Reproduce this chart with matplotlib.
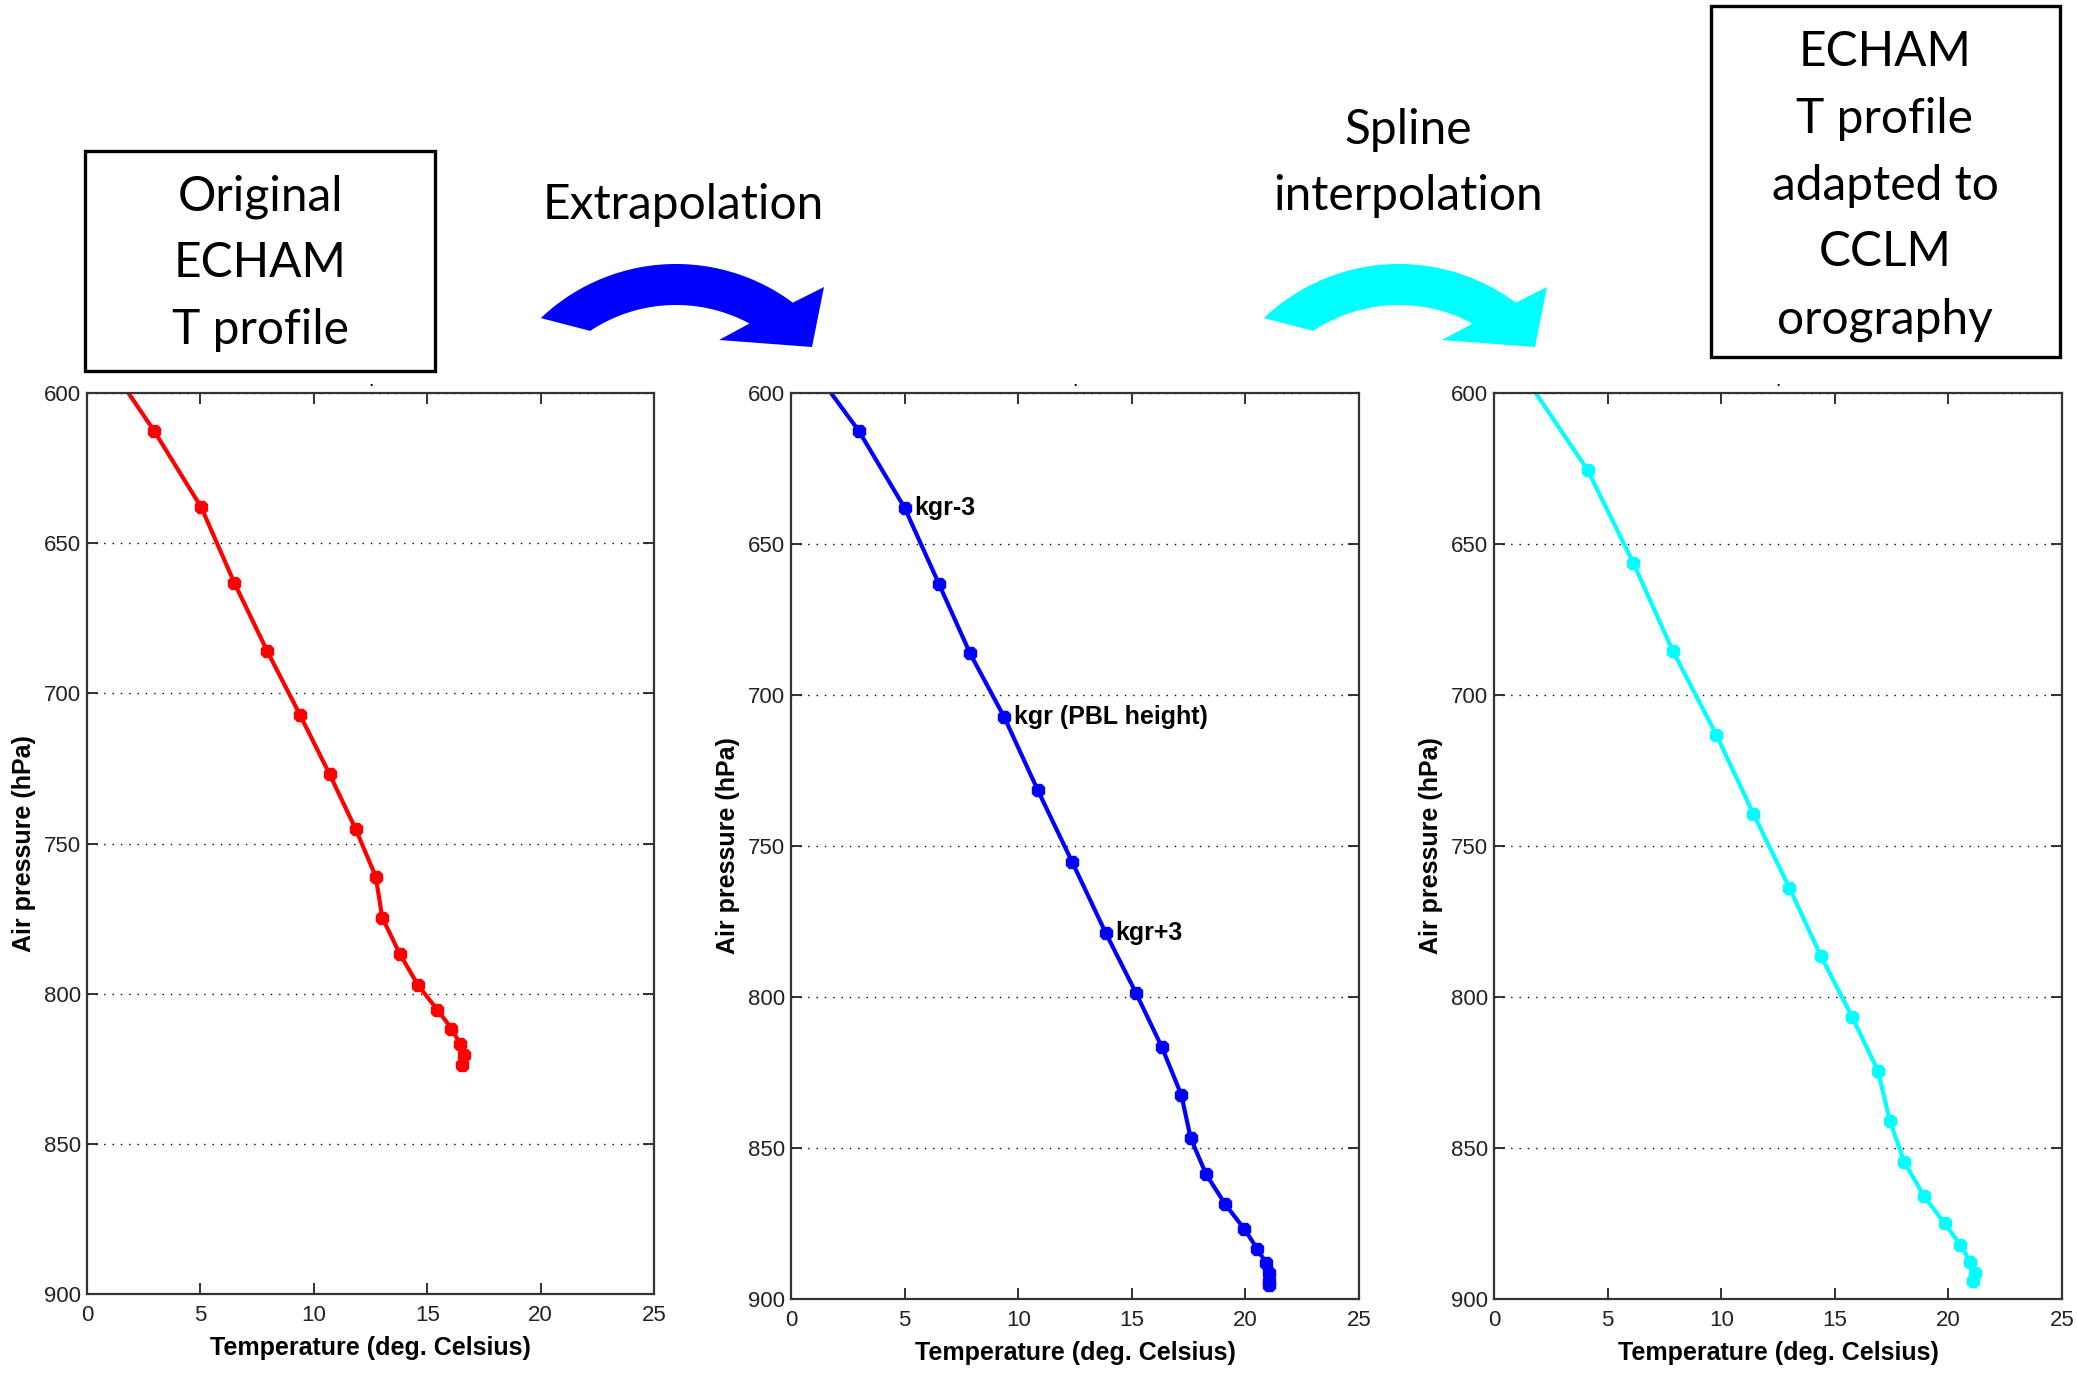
import numpy as np
import matplotlib.pyplot as plt
from matplotlib.patches import Polygon, Rectangle

plt.rcParams['font.family'] = ['Liberation Sans Narrow', 'Liberation Sans', 'DejaVu Sans']

# original ECHAM profile (red)
orig_T = [0.75, 2.95, 5.04, 6.49, 7.95, 9.40, 10.70, 11.84, 12.73, 13.02, 13.79,
          14.59, 15.44, 16.07, 16.46, 16.64, 16.52]
orig_p = [588, 612.5, 638.1, 663.1, 686.0, 707.3, 727.0, 745.1, 761.0, 774.7, 786.7,
          797.1, 805.3, 811.6, 816.8, 820.3, 823.6]

# extrapolated profile (blue)
ext_T = [0.59, 2.98, 5.00, 6.51, 7.88, 9.39, 10.86, 12.37, 13.86, 15.18, 16.33,
         17.18, 17.59, 18.27, 19.12, 19.96, 20.53, 20.92, 21.06, 21.02, 21.02]
ext_p = [588, 612.5, 638.0, 663.2, 686.2, 707.4, 731.5, 755.2, 778.9, 798.6, 816.7,
         832.4, 846.7, 858.7, 868.7, 876.9, 883.5, 888.2, 891.4, 894.0, 895.4]

# spline interpolated profile on CCLM levels (cyan)
spl_T = [1.39, 4.12, 6.13, 7.87, 9.79, 11.42, 13.00, 14.38, 15.76, 16.90, 17.43,
         18.06, 18.92, 19.83, 20.53, 20.97, 21.16, 21.10]
spl_p = [595, 625.5, 656.2, 685.4, 713.2, 739.4, 763.8, 786.3, 806.5, 824.5, 841.2,
         854.6, 865.9, 874.9, 882.1, 887.9, 891.4, 894.0]

kgr_labels = ['kgr-3', 'kgr (PBL height)', 'kgr+3']
kgr_idx = [2, 5, 8]

x_ticks = [0, 5, 10, 15, 20, 25]
y_ticks = [600, 650, 700, 750, 800, 850, 900]

W, H = 2077, 1375
fig = plt.figure(figsize=(W / 100, H / 100), dpi=100)


def px_rect(x0, y0, x1, y1):
    # pixel box (y down) -> figure fraction rect
    return [x0 / W, 1 - y1 / H, (x1 - x0) / W, (y1 - y0) / H]


panels = [
    (px_rect(87, 393, 654, 1294), orig_T, orig_p, (1, 0, 0)),
    (px_rect(791, 393, 1359, 1299), ext_T, ext_p, (0, 0, 1)),
    (px_rect(1494, 393, 2062, 1299), spl_T, spl_p, (0, 1, 1)),
]

axes = []
for rect, T, p, col in panels:
    ax = fig.add_axes(rect)
    ax.plot(T, p, '-', color=col, lw=3.0, marker='8', ms=10, mec=col, mfc=col)
    ax.set_xlim(0, 25)
    ax.set_ylim(900, 600)
    ax.set_xticks(x_ticks)
    ax.set_yticks(y_ticks)
    ax.yaxis.grid(True, color='k', lw=1.0, linestyle=(0, (1, 5)))
    ax.tick_params(direction='in', top=True, right=True, length=8, width=1.3,
                   labelsize=16, colors='#222222', pad=4)
    ax.tick_params(axis='x', pad=8)
    for s in ax.spines.values():
        s.set_linewidth(1.6)
        s.set_color('#333333')
    ax.set_xlabel('Temperature (deg. Celsius)', fontsize=18, fontweight='bold', labelpad=7)
    ax.set_ylabel('Air pressure (hPa)', fontsize=18, fontweight='bold', labelpad=6)
    ax.set_title('.', fontsize=14, pad=5)
    axes.append(ax)

for lab, i in zip(kgr_labels, kgr_idx):
    axes[1].annotate(lab, xy=(ext_T[i], ext_p[i]), xytext=(7, 0), textcoords='offset points',
                     va='center', ha='left', fontsize=18, fontweight='bold')


def curved_arrow(cx, cy, color):
    # curved block arrow, pixel geometry relative to arc centre
    r_out, r_in = 196, 155
    t_out = np.radians(np.linspace(133.6, 53.4, 80))
    t_in = np.radians(np.linspace(61.7, 123.6, 80))
    head = [(148, -173), (136, -113), (43, -120)]
    xs = list(cx + r_out * np.cos(t_out)) + [cx + h[0] for h in head] + list(cx + r_in * np.cos(t_in))
    ys = list(cy - r_out * np.sin(t_out)) + [cy + h[1] for h in head] + list(cy - r_in * np.sin(t_in))
    pts = np.column_stack([np.array(xs) / W, 1 - np.array(ys) / H])
    fig.patches.append(Polygon(pts, closed=True, facecolor=color, edgecolor='none',
                               transform=fig.transFigure))


curved_arrow(676, 460, (0, 0, 1))
curved_arrow(1399, 460, (0, 1, 1))


def box(x0, y0, x1, y1):
    fig.patches.append(Rectangle((x0 / W, 1 - y1 / H), (x1 - x0) / W, (y1 - y0) / H,
                                 fill=False, edgecolor='k', lw=2.4, transform=fig.transFigure))


tfont = dict(family=['Lato', 'DejaVu Sans'], fontsize=34.5, ha='center', va='center',
             linespacing=1.63)

box(85, 151, 435, 371)
fig.text(260 / W, 1 - 263 / H, 'Original\nECHAM\nT profile', **tfont)
fig.text(683 / W, 1 - 205 / H, 'Extrapolation', **tfont)
fig.text(1408 / W, 1 - 163 / H, 'Spline\ninterpolation', **tfont)
box(1711, 6, 2060, 357)
fig.text(1885 / W, 1 - 186 / H, 'ECHAM\nT profile\nadapted to\nCCLM\norography', **tfont)

fig.savefig('out.png', dpi=100)
